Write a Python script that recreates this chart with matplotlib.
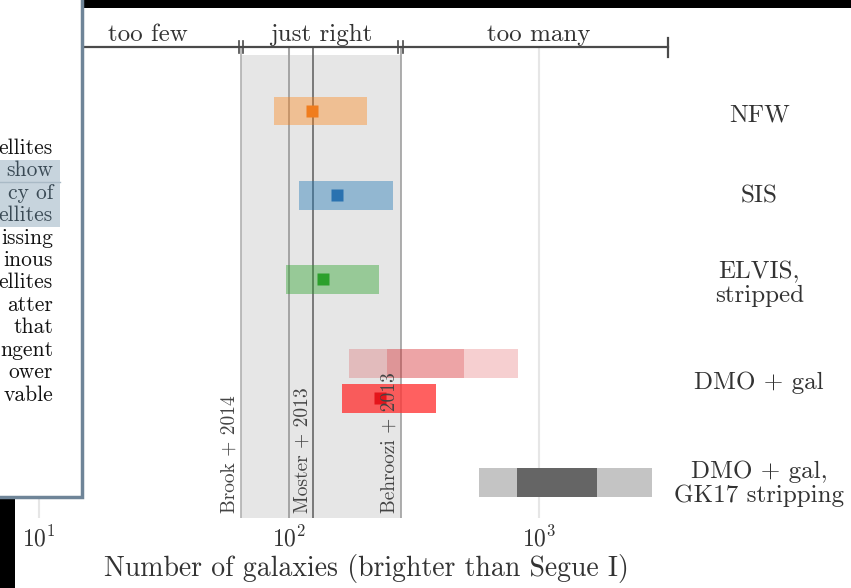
import matplotlib
matplotlib.use('Agg')
import matplotlib.pyplot as plt
from matplotlib.patches import Rectangle

plt.rcParams['font.family'] = 'serif'
plt.rcParams['font.serif'] = ['cmr10', 'DejaVu Serif']
plt.rcParams['mathtext.fontset'] = 'cm'
plt.rcParams['axes.formatter.use_mathtext'] = True
plt.rcParams['axes.unicode_minus'] = False

# satellite count predictions (number brighter than Segue I)
row_pos = [0.0, 1.0, 2.0, 3.42]          # NFW, SIS, ELVIS, DMO+gal (red)
row_lo = [87, 110, 97, 163]
row_hi = [205, 261, 229, 387]
row_med = [124, 156, 137, 231]
bar_colors = [(1.0, 0.50, 0.05, 0.38), (0.12, 0.47, 0.71, 0.42),
              (0.17, 0.63, 0.17, 0.42), (1.0, 0.22, 0.22, 0.80)]
marker_colors = ['#f07d1e', '#2a72b0', '#2ca02c', '#e4151b']

# DMO + gal (light pink, two ranges) and GK17 stripping (gray)
dmo_pos = 3.0
dmo_outer = (174, 824)
dmo_inner = (247, 501)
gk_pos = 4.42
gk_outer = (575, 2831)
gk_inner = (817, 1706)

model_labels = ['NFW', 'SIS', 'ELVIS,\nstripped', 'DMO + gal', 'DMO + gal,\nGK17 stripping']
label_pos = [0.05, 1.02, 2.06, 3.23, 4.44]

# abundance matching
am_values = [64.3, 100, 125, 280]
am_labels = ['Brook + 2014', '', 'Moster + 2013', 'Behroozi + 2013']
am_colors = ['#b0b0b0', '#999999', '#666666', '#a0a0a0']

# top bracket
too_few_start = 11.6
too_many_end = 3280
region_names = ['too few', 'just right', 'too many']
region_x = [27.3, 134, 1000]

# overlapping caption box: only the right ends of its lines are visible
box_words = ['ellites', 'show', 'cy of', 'ellites', 'issing', 'inous',
             'ellites', 'atter', 'that', 'ngent', 'ower', 'vable']

W, H = 851, 588
fig = plt.figure(figsize=(W / 100, H / 100), dpi=100)
ax = fig.add_axes([0, 70 / H, 678 / W, 471 / H])
ax.set_xscale('log')
ax.set_xlim(6.98, 3597)
ax.set_ylim(4.845, -0.762)

ax.axvspan(am_values[0], am_values[-1], ymax=0.983, color='#e6e6e6', zorder=0.5, lw=0)
for v, lab, c in zip(am_values, am_labels, am_colors):
    ax.axvline(v, color=c, lw=1.2, zorder=1.5)
    if lab:
        ax.annotate(lab, (v, 4.79), xytext=(-1.5, 0), textcoords='offset points',
                    rotation=90, ha='right', va='bottom', fontsize=14,
                    color='#444444', zorder=5)

bh = 0.345
for y, lo, hi, med, bc, mc in zip(row_pos, row_lo, row_hi, row_med, bar_colors, marker_colors):
    ax.barh(y, hi - lo, left=lo, height=bh, color=bc, lw=0, zorder=2)
    ax.plot(med, y, 's', color=mc, ms=8, mec='none', zorder=3)

ax.barh(dmo_pos, dmo_outer[1] - dmo_outer[0], left=dmo_outer[0], height=bh,
        color=(0.84, 0.15, 0.16, 0.22), lw=0, zorder=2)
ax.barh(dmo_pos, dmo_inner[1] - dmo_inner[0], left=dmo_inner[0], height=bh,
        color=(0.84, 0.15, 0.16, 0.25), lw=0, zorder=2)
ax.barh(gk_pos, gk_outer[1] - gk_outer[0], left=gk_outer[0], height=bh,
        color='#c4c4c4', lw=0, zorder=2)
ax.barh(gk_pos, gk_inner[1] - gk_inner[0], left=gk_inner[0], height=bh,
        color='#656565', lw=0, zorder=2)

for lab, y in zip(model_labels, label_pos):
    ax.text(7600, y, lab, ha='center', va='center', fontsize=18,
            linespacing=1.1, color='#333333', clip_on=False)

# bracket along the top
tr = ax.get_xaxis_transform()
ax.plot([too_few_start, too_many_end], [1, 1], color='#4a4a4a', lw=1.6,
        transform=tr, clip_on=False, zorder=6)
for v in [am_values[0], am_values[-1]]:
    for f in [1 / 1.022, 1.022]:
        ax.plot([v * f, v * f], [1 - 6 / 471, 1 + 6 / 471], color='#4a4a4a',
                lw=1.2, transform=tr, clip_on=False, zorder=6)
ax.plot([too_many_end, too_many_end], [1 - 10 / 471, 1 + 9 / 471], color='#4a4a4a',
        lw=1.6, transform=tr, clip_on=False, zorder=6)
for name, x in zip(region_names, region_x):
    ax.text(x, 1 + 12 / 471, name, transform=tr, ha='center', va='center',
            fontsize=18, color='#333333', clip_on=False)

ax.grid(axis='x', which='major', color='#e6e6e6', lw=1.5)
ax.set_axisbelow(True)
ax.set_yticks([])
ax.minorticks_off()
ax.tick_params(axis='x', length=0, pad=6, labelsize=17, labelcolor='#333333')
for s in ax.spines.values():
    s.set_visible(False)
ax.set_xlabel('Number of galaxies (brighter than Segue I)', fontsize=20,
              color='#333333')
ax.xaxis.set_label_coords(366 / 678, -36 / 471)


def px_rect(x, y, w, h, **kw):
    fig.add_artist(Rectangle((x / W, 1 - (y + h) / H), w / W, h / H,
                             transform=fig.transFigure, **kw))


# screenshot overlay: black strips and the caption box
px_rect(83, 0, W - 83, 8, color='black', lw=0, zorder=10)
px_rect(0, 497, 15, H - 497, color='black', lw=0, zorder=10)
px_rect(-5, -5, 87, 502, facecolor='white', edgecolor='#6f8598', lw=2.5, zorder=10)
px_rect(0, 160, 60, 67, color='#c7d4dd', lw=0, zorder=10.5)
fig.add_artist(plt.Line2D([0, 60 / W], [1 - 182 / H, 1 - 182 / H], color='#a9bac6',
                          lw=1, transform=fig.transFigure, zorder=10.6))
for i, word in enumerate(box_words):
    fig.text(53 / W, 1 - (148 + 22.45 * i) / H, word, ha='right', va='center',
             fontsize=15.5, color='#3a4a55' if 1 <= i <= 3 else '#111111', zorder=11)

fig.savefig('out.png', dpi=100)
